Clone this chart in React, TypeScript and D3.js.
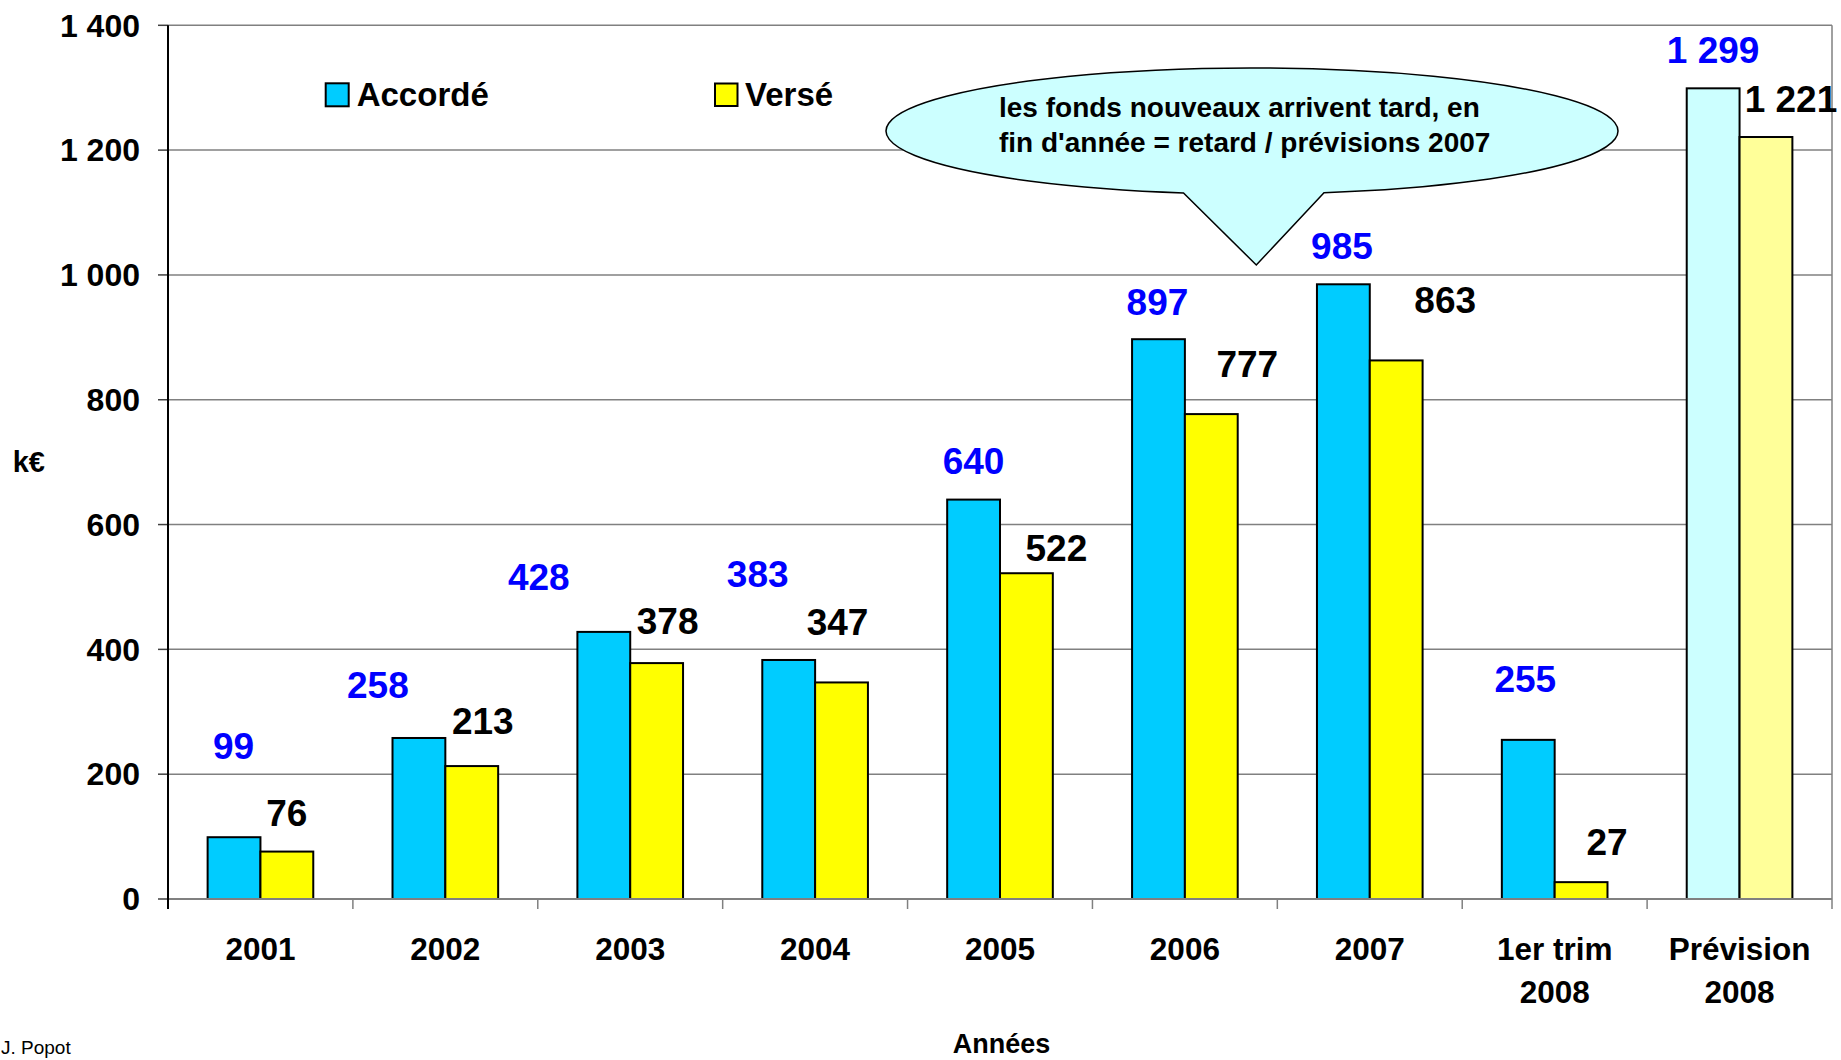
import React, { useEffect } from 'react';
import * as d3 from 'd3';

// ---- data ----
const categories = ['2001', '2002', '2003', '2004', '2005', '2006', '2007', '1er trim\n2008', 'Prévision\n2008'];
const accorde = [99, 258, 428, 383, 640, 897, 985, 255, 1299];
const verse = [76, 213, 378, 347, 522, 777, 863, 27, 1221];
const seriesNames = ['Accordé', 'Versé'];
const yTicks = [0, 200, 400, 600, 800, 1000, 1200, 1400];
const forecastCategory = 'Prévision\n2008';
const calloutLines = ["les fonds nouveaux arrivent tard, en", "fin d'année = retard / prévisions 2007"];
const yAxisTitle = 'k€';
const xAxisTitle = 'Années';
const footer = 'J. Popot';

// ---- layout (label nudges, px) ----
const accDx = [-0.5, -41, -65, -31, 0, -1, -1.4, -3, 0];
const accDy = [-91.6, -53, -55, -86, -39, -38, -39, -61, -39];
const verDx = [0, 11, 11, -4, 30, 36, 49, 26, 25];
const verDy = [-39, -45, -42, -61, -26, -50, -61, -40, -38.4];

const W = 1841, H = 1060;
const L = 168, R = 1832, T = 25.3, B = 899;
const FONT = '"Liberation Sans", Arial, Helvetica, sans-serif';
const colors = ['#00CCFF', '#FFFF00'];
const forecastColors = ['#CCFFFF', '#FFFF99'];
const labelColors = ['#0000FF', '#000000'];

const locale = d3.formatLocale({ decimal: ',', thousands: ' ', grouping: [3], currency: ['', ''] });
const fmt = locale.format(',d');

export default function App() {
  useEffect(() => {
    document.body.style.margin = '0';
    document.body.style.overflow = 'hidden';
  }, []);

  const x = d3.scaleBand<string>().domain(categories).range([L, R]).paddingInner(0).paddingOuter(0);
  const xs = d3.scaleBand<string>().domain(seriesNames).range([0, x.bandwidth()]).paddingInner(0).paddingOuter(0.75);
  const y = d3.scaleLinear().domain([0, 1400]).range([B, T]);
  const bw = xs.bandwidth();
  const series = [accorde, verse];
  const dxs = [accDx, verDx];
  const dys = [accDy, verDy];

  // callout geometry
  const cx = 1252, cy = 131, rx = 366, ry = 63;
  const bx1 = 1183.5, bx2 = 1324;
  const by = (bx: number) => cy + ry * Math.sqrt(1 - ((bx - cx) / rx) ** 2);
  const calloutPath = `M${bx1},${by(bx1)} A${rx},${ry} 0 1 1 ${bx2},${by(bx2)} L1256.3,265 Z`;

  const boundaries = categories.map((c) => x(c) as number).concat([R]);

  return (
    <svg width={W} height={H} style={{ position: 'absolute', left: 0, top: 0, background: '#fff' }} fontFamily={FONT}>
      {/* gridlines */}
      {yTicks.map((t) => (
        <g key={t}>
          {t > 0 && <line x1={L} x2={R} y1={y(t)} y2={y(t)} stroke="#808080" strokeWidth={1.5} />}
          <line x1={L - 10} x2={L} y1={y(t)} y2={y(t)} stroke="#404040" strokeWidth={1.5} />
          <text x={140} y={y(t) + 11.3} textAnchor="end" fontSize={32} fontWeight="bold" fill="#000">{fmt(t)}</text>
        </g>
      ))}
      {/* right border */}
      <line x1={R} x2={R} y1={T} y2={B} stroke="#808080" strokeWidth={1.5} />

      {/* bars */}
      {categories.map((c, i) => (
        <g key={c}>
          {series.map((s, j) => {
            const fill = c === forecastCategory ? forecastColors[j] : colors[j];
            const x0 = (x(c) as number) + (xs(seriesNames[j]) as number);
            return (
              <rect key={j} x={x0} y={y(s[i])} width={bw} height={B - y(s[i])} fill={fill} stroke="#000" strokeWidth={2} />
            );
          })}
        </g>
      ))}

      {/* axes */}
      <line x1={L} x2={R} y1={B} y2={B} stroke="#808080" strokeWidth={2} />
      {boundaries.map((bx, k) => (
        <line key={k} x1={bx} x2={bx} y1={B} y2={B + 10} stroke={k === 0 ? '#000' : '#808080'} strokeWidth={1.5} />
      ))}
      <line x1={L} x2={L} y1={T} y2={B + 10} stroke="#000" strokeWidth={2} />

      {/* category labels */}
      {categories.map((c) => (
        <text key={c} textAnchor="middle" fontSize={31.5} fontWeight="bold" fill="#000">
          {c.split('\n').map((ln, k) => (
            <tspan key={k} x={(x(c) as number) + x.bandwidth() / 2} y={960 + k * 43.3}>{ln}</tspan>
          ))}
        </text>
      ))}

      {/* value labels */}
      {categories.map((c, i) => (
        <g key={'l' + c}>
          {series.map((s, j) => {
            const cxBar = (x(c) as number) + (xs(seriesNames[j]) as number) + bw / 2;
            return (
              <text key={j} x={cxBar + dxs[j][i]} y={y(s[i]) + dys[j][i] + 13.3} textAnchor="middle"
                fontSize={37} fontWeight="bold" fill={labelColors[j]}>{fmt(s[i])}</text>
            );
          })}
        </g>
      ))}

      {/* legend */}
      <rect x={325.7} y={83.3} width={23} height={23} fill={colors[0]} stroke="#000" strokeWidth={2} />
      <text x={356.7} y={106} fontSize={33} fontWeight="bold">{seriesNames[0]}</text>
      <rect x={715} y={83.5} width={22.5} height={22.5} fill={colors[1]} stroke="#000" strokeWidth={2} />
      <text x={745} y={106} fontSize={33} fontWeight="bold">{seriesNames[1]}</text>

      {/* callout */}
      <path d={calloutPath} fill="#CCFFFF" stroke="#000" strokeWidth={1.5} strokeLinejoin="miter" />
      {calloutLines.map((ln, k) => (
        <text key={k} x={999} y={116.5 + k * 35} fontSize={28} fontWeight="bold" fill="#000">{ln}</text>
      ))}

      {/* axis titles */}
      <text x={12.7} y={471.5} fontSize={29} fontWeight="bold">{yAxisTitle}</text>
      <text x={1001.5} y={1053} textAnchor="middle" fontSize={27} fontWeight="bold">{xAxisTitle}</text>
      <text x={1} y={1054} fontSize={19} fill="#000">{footer}</text>
    </svg>
  );
}
